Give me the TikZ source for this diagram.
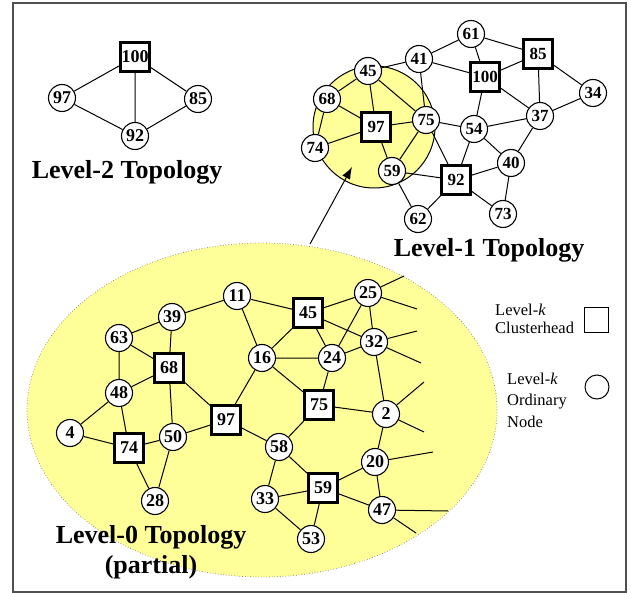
\documentclass[tikz,border=0pt]{standalone}
\usepackage{fontspec}
\setmainfont{Liberation Serif}
\usetikzlibrary{arrows.meta}
\definecolor{paleyellow}{RGB}{255,255,153}
\definecolor{framegray}{RGB}{80,80,80}
\begin{document}
\begin{tikzpicture}[x=1pt,y=-1pt,
  ord/.style={circle,draw,fill=white,line width=1.1pt,minimum size=27pt,inner sep=0pt,font=\fontsize{18}{18}\selectfont\bfseries},
  ordA/.style={ord,font=\fontsize{17}{17}\selectfont\bfseries},
  ch/.style={rectangle,draw,fill=white,line width=3pt,minimum size=29pt,inner sep=0pt,font=\fontsize{18}{18}\selectfont\bfseries},
  chA/.style={ch,font=\fontsize{17}{17}\selectfont\bfseries},
  lk/.style={line width=1pt},
  ttl/.style={inner sep=0pt,align=center,font=\fontsize{26}{30}\selectfont\bfseries},
  leg/.style={inner sep=0pt,align=left,anchor=west}]
\useasboundingbox (0,0) rectangle (631,593);
\draw[framegray,line width=1.5pt] (13,3) rectangle (626,592);

% Level-0 cluster area
\fill[paleyellow] (262,410) ellipse [x radius=235pt, y radius=167pt];
\draw[gray,dotted,line width=0.7pt] (262,410) ellipse [x radius=235pt, y radius=167pt];
% Level-1 cluster area
\filldraw[fill=paleyellow,draw=black,line width=1pt] (374,127) circle [radius=61pt];

% arrow
\coordinate (arrS) at (310,244);
\coordinate (arrE) at (352,167);
\draw[lk,-{Latex[length=12pt,width=9pt]}] (arrS) -- (arrE);

% ---------- Level-2 ----------
\node[ch] (L2n100) at (135,57) {100};
\node[ord] (L2n97) at (62,98) {97};
\node[ord] (L2n85) at (198,99) {85};
\node[ord] (L2n92) at (135,136) {92};
\draw[lk] (L2n100) -- (L2n97) (L2n100) -- (L2n85) (L2n100) -- (L2n92)
          (L2n97) -- (L2n92) (L2n85) -- (L2n92);
\node[ttl] (t2) at (127,172) {Level-2 Topology};

% ---------- Level-1 ----------
\node[ordA] (a61) at (471,34) {61};
\node[chA] (a85) at (538,54) {85};
\node[ordA] (a41) at (419,59) {41};
\node[chA] (a100) at (485,77) {100};
\node[ordA] (a45) at (368,71) {45};
\node[ordA] (a34) at (593,93) {34};
\node[ordA] (a68) at (327,99) {68};
\node[chA] (a97) at (376,127) {97};
\node[ordA] (a75) at (426,120) {75};
\node[ordA] (a37) at (540,116) {37};
\node[ordA] (a54) at (474,129) {54};
\node[ordA] (a74) at (315,148) {74};
\node[ordA] (a40) at (511,163) {40};
\node[ordA] (a59) at (392,171) {59};
\node[chA] (a92) at (456,180) {92};
\node[ordA] (a62) at (418,219) {62};
\node[ordA] (a73) at (503,214) {73};
\draw[lk] (a61) -- (a41) (a61) -- (a100) (a61) -- (a85)
  (a41) -- (a45) (a41) -- (a100) (a41) -- (a75)
  (a85) -- (a100) (a85) -- (a37) (a85) -- (a34)
  (a100) -- (a37) (a100) -- (a54) (a34) -- (a37)
  (a45) -- (a68) (a45) -- (a97) (a45) -- (a75)
  (a68) -- (a97) (a68) -- (a74)
  (a97) -- (a75) (a97) -- (a74) (a97) -- (a59)
  (a75) -- (a54) (a75) -- (a59) (a75) -- (a92)
  (a54) -- (a37) (a54) -- (a92) (a54) -- (a40)
  (a37) -- (a40) (a40) -- (a92) (a40) -- (a73)
  (a59) -- (a92) (a59) -- (a62) (a92) -- (a62) (a92) -- (a73);
\node[ttl] (t1) at (489,250) {Level-1 Topology};

% ---------- Level-0 ----------
\node[ord] (b11) at (237,296) {11};
\node[ord] (b39) at (172,317) {39};
\node[ord] (b63) at (119,338) {63};
\node[ord] (b16) at (262,358) {16};
\node[ch] (b68) at (169,368) {68};
\node[ord] (b48) at (119,393) {48};
\node[ch] (b97) at (226,420) {97};
\node[ord] (b4) at (70,433) {4};
\node[ch] (b74) at (129,448) {74};
\node[ord] (b50) at (173,437) {50};
\node[ord] (b58) at (279,447) {58};
\node[ord] (b28) at (155,501) {28};
\node[ord] (b33) at (265,499) {33};
\node[ch] (b45) at (308,313) {45};
\node[ord] (b25) at (368,293) {25};
\node[ord] (b32) at (374,342) {32};
\node[ord] (b24) at (332,358) {24};
\node[ch] (b75) at (319,405) {75};
\node[ord] (b2) at (386,414) {2};
\node[ord] (b20) at (375,462) {20};
\node[ch] (b59) at (323,488) {59};
\node[ord] (b47) at (382,510) {47};
\node[ord] (b53) at (311,539) {53};
\coordinate (e25a) at (404,276);
\coordinate (e25b) at (417,309);
\coordinate (e32a) at (417,331);
\coordinate (e32b) at (421,363);
\coordinate (e2a) at (424,382);
\coordinate (e2b) at (424,432);
\coordinate (e20) at (433,452);
\coordinate (e47a) at (448,511);
\coordinate (e47b) at (416,533);
\draw[lk] (b11) -- (b39) (b11) -- (b45) (b11) -- (b16)
  (b39) -- (b63) (b39) -- (b68)
  (b63) -- (b68) (b63) -- (b48)
  (b48) -- (b68) (b48) -- (b4) (b48) -- (b74)
  (b68) -- (b50) (b68) -- (b97)
  (b4) -- (b74) (b74) -- (b50) (b74) -- (b28)
  (b50) -- (b28) (b50) -- (b97)
  (b97) -- (b16) (b97) -- (b58)
  (b16) -- (b45) (b16) -- (b24) (b16) -- (b75)
  (b45) -- (b25) (b45) -- (b32) (b45) -- (b24)
  (b25) -- (b24) (b25) -- (b32)
  (b32) -- (b24) (b32) -- (b2)
  (b24) -- (b75) (b75) -- (b2) (b75) -- (b58)
  (b2) -- (b20)
  (b58) -- (b33) (b58) -- (b59)
  (b59) -- (b33) (b59) -- (b20) (b59) -- (b47) (b59) -- (b53)
  (b33) -- (b53) (b20) -- (b47)
  (b25) -- (e25a) (b25) -- (e25b)
  (b32) -- (e32a) (b32) -- (e32b)
  (b2) -- (e2a) (b2) -- (e2b)
  (b20) -- (e20)
  (b47) -- (e47a) (b47) -- (e47b);
\node[ttl] (t0) at (151,552) {Level-0 Topology\\(partial)};

% ---------- Legend ----------
\node[leg,font=\fontsize{16.5}{18.5}\selectfont] (lg1) at (495,319) {Level-\textit{k}\\Clusterhead};
\node[draw,line width=1pt,minimum width=24pt,minimum height=25pt,inner sep=0pt] (lgsq) at (596,320) {};
\node[leg,font=\fontsize{16.5}{21.5}\selectfont] (lg2) at (507,400) {Level-\textit{k}\\Ordinary\\Node};
\node[draw,circle,line width=1pt,minimum size=24pt,inner sep=0pt] (lgci) at (597,387) {};
\end{tikzpicture}
\end{document}
